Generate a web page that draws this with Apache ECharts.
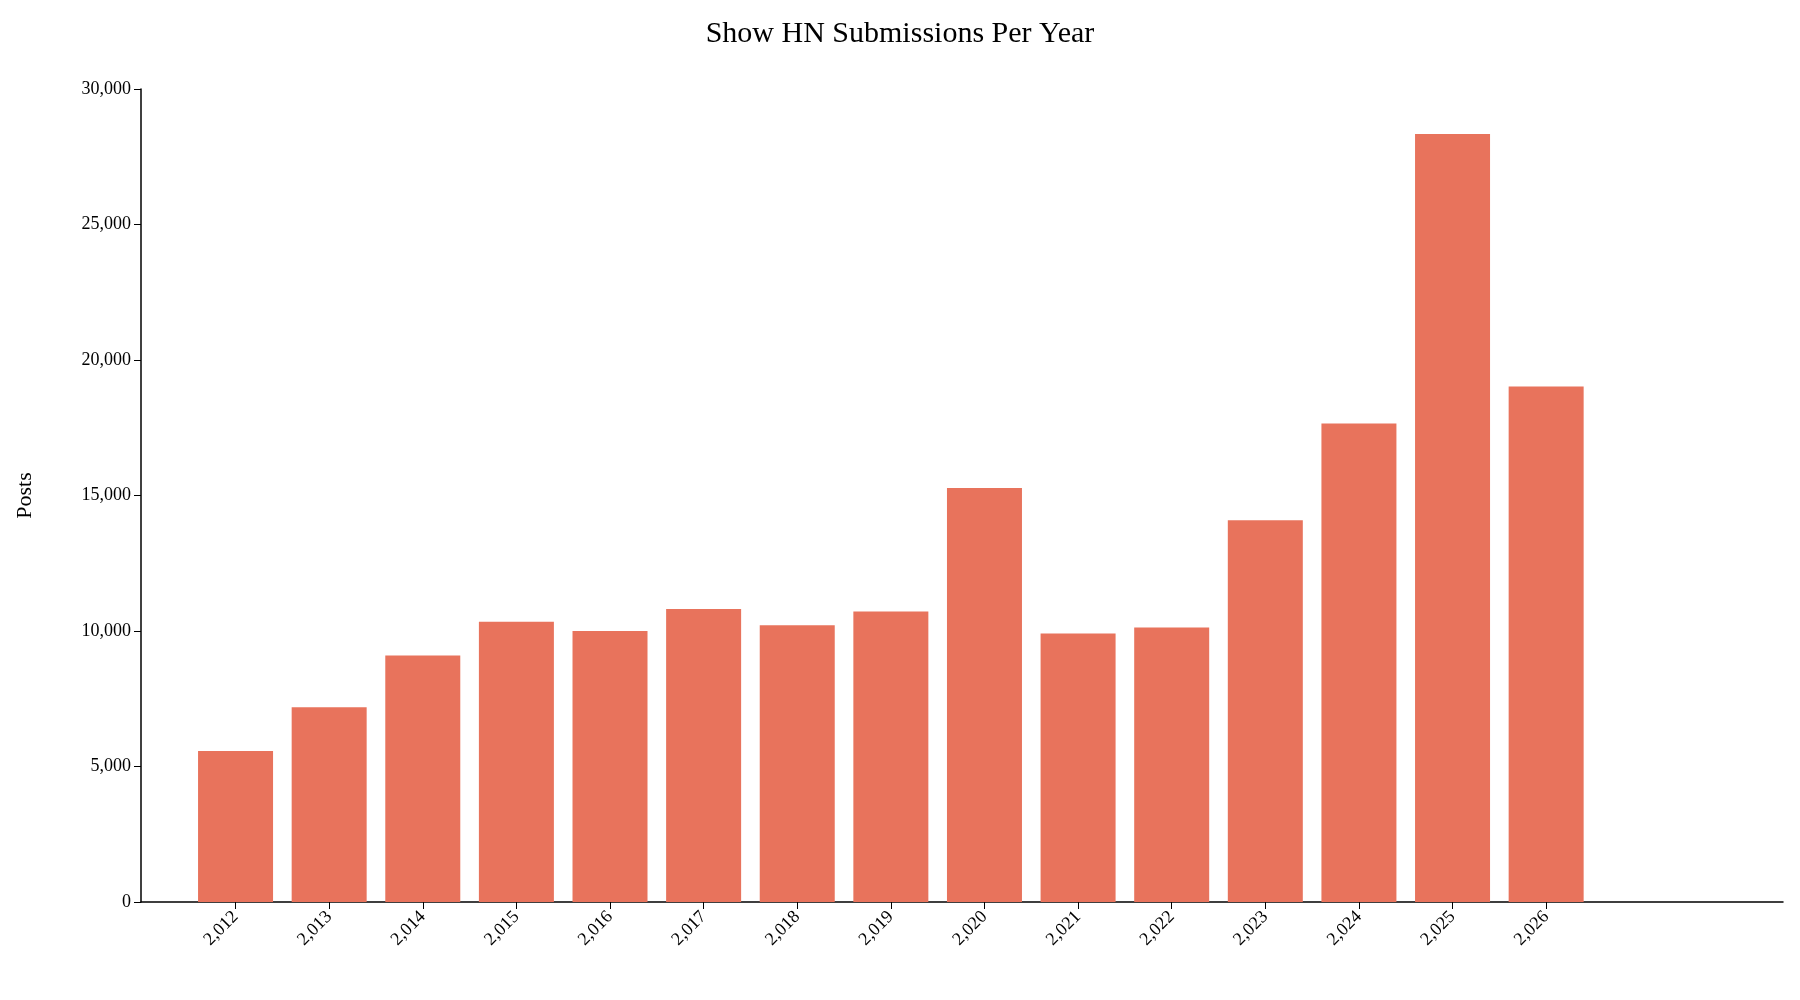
<!DOCTYPE html>
<html>
<head>
<meta charset="utf-8">
<script src="https://cdn.jsdelivr.net/npm/echarts@6/dist/echarts.min.js"></script>
<style>html,body{margin:0;padding:0;background:#fff}#c{width:1800px;height:1000px}</style>
</head>
<body>
<div id="c"></div>
<script>
var years = [2012, 2013, 2014, 2015, 2016, 2017, 2018, 2019, 2020, 2021, 2022, 2023, 2024, 2025, 2026];
var posts = [5570, 7190, 9100, 10340, 10000, 10810, 10210, 10720, 15280, 9910, 10130, 14090, 17660, 28340, 19020];
var yTicks = [0, 5000, 10000, 15000, 20000, 25000, 30000];

var font = "'Liberation Serif', 'Times New Roman', serif";
var chart = echarts.init(document.getElementById("c"));

chart.setOption({
    animation: false,
    title: {
        text: "Show HN Submissions Per Year",
        left: "center",
        top: 14,
        textStyle: { fontFamily: font, fontSize: 30, fontWeight: "normal", color: "#000" }
    },
    grid: { left: 141, right: 17, top: 89, bottom: 98 },
    xAxis: {
        type: "value",
        min: 2010.99,
        max: 2028.53,
        axisLine: { lineStyle: { color: "#000", width: 1.5 } },
        axisTick: { show: true, customValues: years, length: 7, lineStyle: { color: "#000" } },
        axisLabel: {
            customValues: years,
            rotate: 45,
            fontFamily: font,
            fontSize: 18,
            color: "#000",
            margin: 12
        },
        splitLine: { show: false }
    },
    yAxis: {
        type: "value",
        min: 0,
        max: 30000,
        interval: 5000,
        name: "Posts",
        nameLocation: "middle",
        nameGap: 105,
        nameTextStyle: { fontFamily: font, fontSize: 22, color: "#000" },
        axisLine: { show: true, lineStyle: { color: "#000", width: 1.5 } },
        axisTick: { show: true, length: 7, lineStyle: { color: "#000" } },
        axisLabel: { customValues: yTicks, fontFamily: font, fontSize: 18, color: "#000", margin: 10 },
        splitLine: { show: false }
    },
    series: [{
        type: "bar",
        barWidth: 75,
        itemStyle: { color: "#e8735c" },
        data: years.map(function (y, i) { return [y, posts[i]]; })
    }]
});
</script>
</body>
</html>
